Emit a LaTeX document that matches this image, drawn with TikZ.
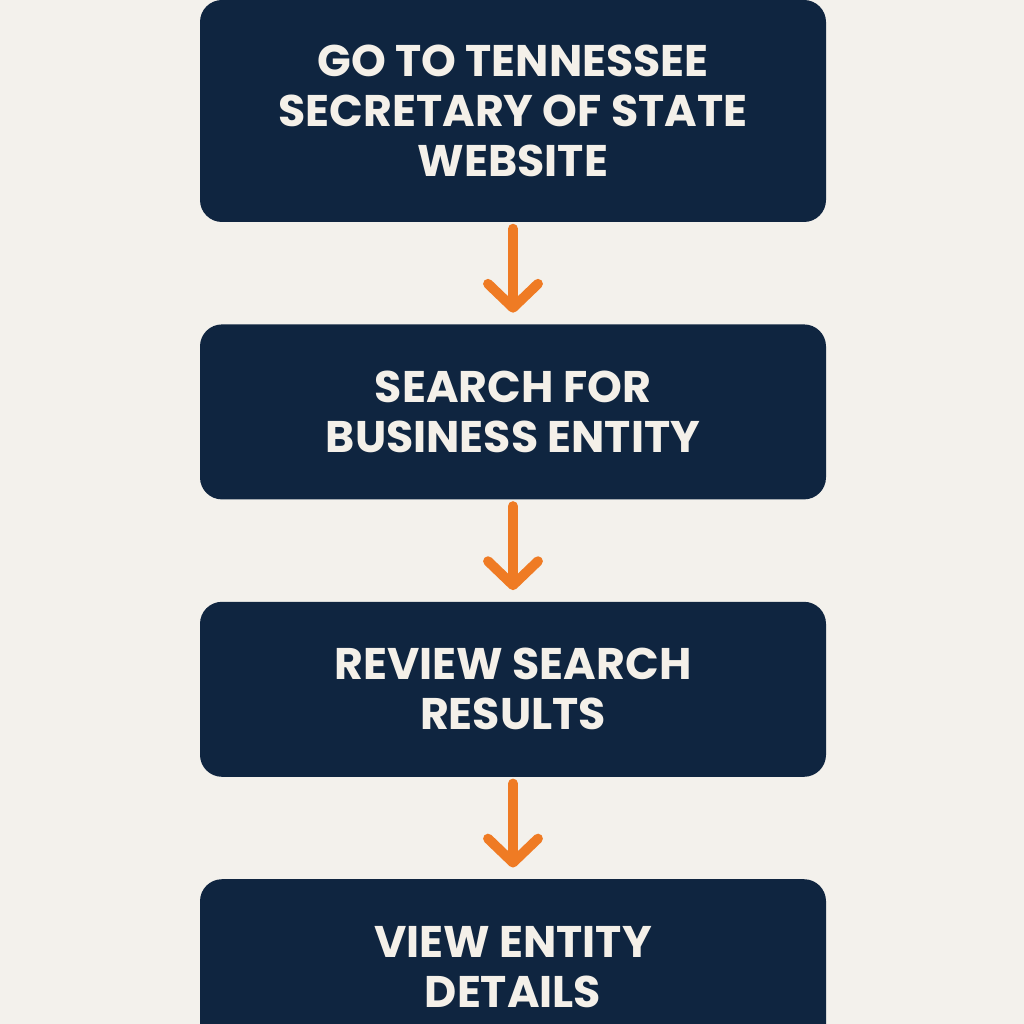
\documentclass[tikz,border=0pt]{standalone}
\usepackage{fontspec}
\setmainfont{Poppins}
\usetikzlibrary{positioning}
\usetikzlibrary{arrows.meta}
\definecolor{navy}{HTML}{0F2540}
\definecolor{paper}{HTML}{F3F1EC}
\definecolor{flowor}{HTML}{EF7B24}
\definecolor{boxtext}{HTML}{F4F0E9}

\begin{document}
\begin{tikzpicture}[
  node distance=1.01cm,
  stepbox/.style={fill=navy, rounded corners=0.22cm, minimum width=6.26cm,
    minimum height=1.75cm, align=center, text=boxtext,
    font=\fontsize{12.6}{14.2}\selectfont\bfseries},
  flow/.style={draw=flowor, line width=2.8pt, line cap=round,
    -{Straight Barb[round,length=2.4mm,width=5mm]},
    shorten <=0.06cm, shorten >=0.11cm}
  ]
  \clip (0,0) rectangle (10.24,10.24);
  \fill[paper] (0,0) rectangle (10.24,10.24);
  \node[stepbox, minimum height=2.22cm] (site) at (5.13,9.13)
    {GO TO TENNESSEE\\SECRETARY OF STATE\\WEBSITE};
  \node[stepbox, below=of site] (search) {SEARCH FOR\\BUSINESS ENTITY};
  \node[stepbox, below=of search] (review) {REVIEW SEARCH\\RESULTS};
  \node[stepbox, below=of review] (details) {VIEW ENTITY\\DETAILS};
  \draw[flow] (site) -- (search);
  \draw[flow] (search) -- (review);
  \draw[flow] (review) -- (details);
\end{tikzpicture}
\end{document}
